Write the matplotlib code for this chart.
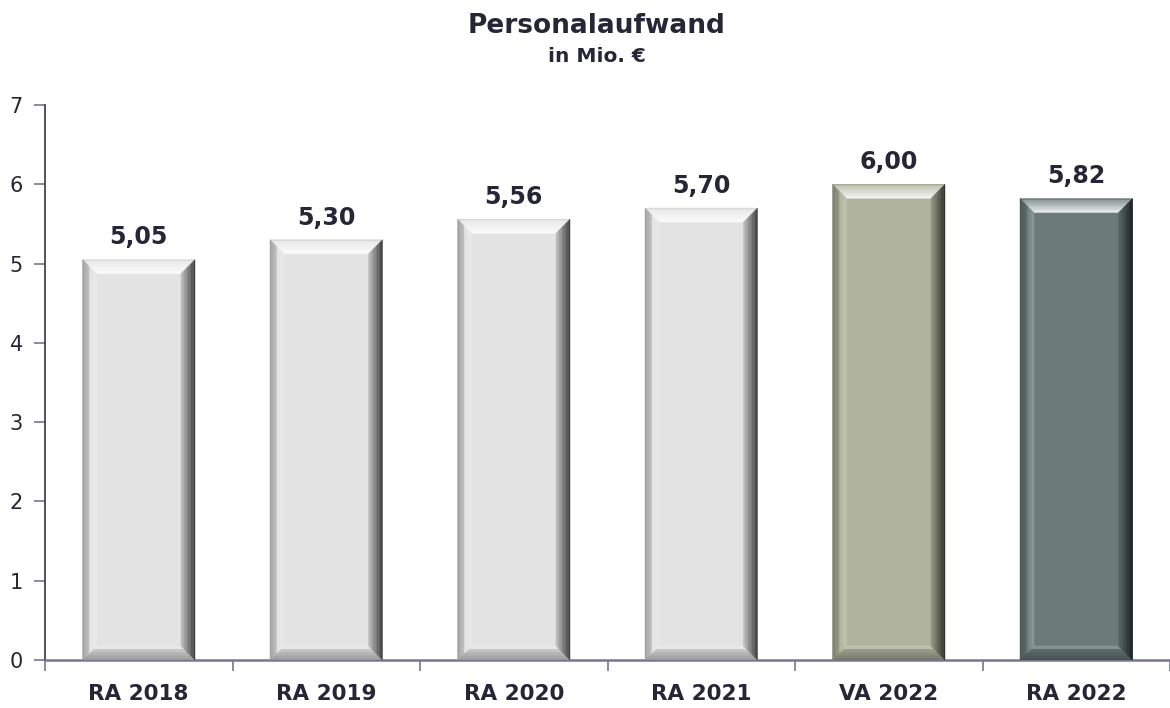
import matplotlib
matplotlib.use("Agg")
import matplotlib.pyplot as plt
from matplotlib.patches import Polygon
import numpy as np

categories = ["RA 2018", "RA 2019", "RA 2020", "RA 2021", "VA 2022", "RA 2022"]
values = [5.05, 5.30, 5.56, 5.70, 6.00, 5.82]
labels = ["5,05", "5,30", "5,56", "5,70", "6,00", "5,82"]
face_colors = ["#e3e3e3", "#e3e3e3", "#e3e3e3", "#e3e3e3", "#b0b39d", "#6a7b79"]
yticks = [0, 1, 2, 3, 4, 5, 6, 7]

TXT = "#262636"
FONT = ["DejaVu Sans"]

fig = plt.figure(figsize=(11.7, 7.08), dpi=100)
ax = fig.add_axes([45 / 1170, 1 - 660 / 708, (1170 - 45) / 1170, (660 - 105) / 708])

x = np.arange(len(categories))
bars = ax.bar(x, values, width=0.6, color=face_colors, zorder=2)
ax.set_xlim(-0.5, len(categories) - 0.5)
ax.set_ylim(0, 7)


def blend(c, other, t):
    c = np.array(matplotlib.colors.to_rgb(c))
    o = np.array(matplotlib.colors.to_rgb(other))
    return tuple(c * (1 - t) + o * t)


# bevel sizes in data units (approx 14 px)
dx = 14 / 187.5
dy = 14 / 79.3
n = 10
for b, fc in zip(bars, face_colors):
    x0 = b.get_x()
    x1 = x0 + b.get_width()
    y0 = b.get_y()
    y1 = y0 + b.get_height()
    for k in range(n):
        t0 = k / n
        t1 = (k + 1) / n
        tm = (t0 + t1) / 2  # 0 outer -> 1 inner
        top_c = blend(fc, "white", 0.15 + 0.75 * tm) if tm > 0.1 else blend(fc, "black", 0.05)
        left_c = blend(fc, "black", 0.3 * (1 - tm)) if tm < 0.5 else blend(fc, "white", 0.5 * (tm - 0.5))
        right_c = blend(fc, "black", 0.15 + 0.6 * (1 - tm))
        bot_c = blend(fc, "black", 0.05 + 0.3 * (1 - tm)) if tm < 0.8 else blend(fc, "white", 0.2)
        polys = [
            ([(x0 + t0 * dx, y1 - t0 * dy), (x1 - t0 * dx, y1 - t0 * dy),
              (x1 - t1 * dx, y1 - t1 * dy), (x0 + t1 * dx, y1 - t1 * dy)], top_c),
            ([(x0 + t0 * dx, y0 + t0 * dy), (x1 - t0 * dx, y0 + t0 * dy),
              (x1 - t1 * dx, y0 + t1 * dy), (x0 + t1 * dx, y0 + t1 * dy)], bot_c),
            ([(x0 + t0 * dx, y0 + t0 * dy), (x0 + t1 * dx, y0 + t1 * dy),
              (x0 + t1 * dx, y1 - t1 * dy), (x0 + t0 * dx, y1 - t0 * dy)], left_c),
            ([(x1 - t0 * dx, y0 + t0 * dy), (x1 - t1 * dx, y0 + t1 * dy),
              (x1 - t1 * dx, y1 - t1 * dy), (x1 - t0 * dx, y1 - t0 * dy)], right_c),
        ]
        for pts, col in polys:
            ax.add_patch(Polygon(pts, closed=True, facecolor=col, edgecolor=col,
                                 linewidth=0.3, zorder=3))

for xi, v, lab in zip(x, values, labels):
    ax.annotate(lab, (xi, v), xytext=(0, 11), textcoords="offset points",
                ha="center", va="baseline", fontsize=17, fontweight="bold",
                color=TXT, family=FONT)

ax.spines["top"].set_visible(False)
ax.spines["right"].set_visible(False)
ax.spines["left"].set_color("#333344")
ax.spines["left"].set_linewidth(1.2)
ax.spines["bottom"].set_color("#777790")
ax.spines["bottom"].set_linewidth(1.8)

ax.set_yticks(yticks)
ax.set_yticklabels([str(t) for t in yticks], fontsize=15, color=TXT, family=FONT)
ax.tick_params(axis="y", length=8, width=1.2, color="#777790", pad=8)

ax.set_xticks(x)
ax.set_xticklabels(categories, fontsize=15.5, fontweight="bold", color=TXT, family=FONT)
ax.set_xticks(np.arange(-0.5, len(categories), 1.0), minor=True)
ax.tick_params(axis="x", which="major", length=0, pad=17)
ax.tick_params(axis="x", which="minor", length=8, width=1.2, color="#777790")

fig.text(597 / 1170, 1 - 33 / 708, "Personalaufwand", ha="center", va="baseline",
         fontsize=19, fontweight="bold", color=TXT, family=FONT)
fig.text(597 / 1170, 1 - 62 / 708, "in Mio. €", ha="center", va="baseline",
         fontsize=14.5, fontweight="bold", color=TXT, family=FONT)

fig.savefig("out.png", dpi=100)
